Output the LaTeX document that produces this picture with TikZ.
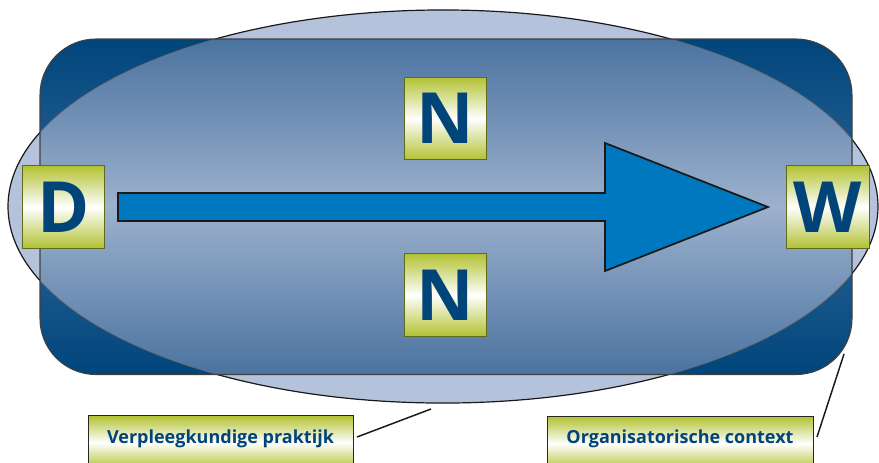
\documentclass[tikz,border=0pt]{standalone}
\usepackage{fontspec}
\setmainfont{Open Sans}
\usetikzlibrary{calc}
\definecolor{ellfill}{HTML}{B4C3DB}
\definecolor{rectdark}{HTML}{00457A}
\definecolor{rectmid}{HTML}{2F6699}
\definecolor{inntop}{HTML}{4B73A0}
\definecolor{innmid}{HTML}{9CB1CD}
\definecolor{arrowblue}{HTML}{0078C0}
\definecolor{olive}{HTML}{B2C232}
\definecolor{olivedark}{HTML}{5E6B1E}
\definecolor{letterblue}{HTML}{00447A}
\tikzset{
  x=0.75pt, y=-0.75pt,
  letterbox/.style={draw=olivedark, line width=0.8pt, minimum width=62pt, minimum height=62pt,
    inner sep=0pt, top color=olive, bottom color=olive, middle color=white,
    text=letterblue, font=\fontsize{53}{53}\selectfont\bfseries},
  labelbox/.style={draw=black!85, line width=1.1pt, anchor=north west, inner sep=0pt,
    top color=olive, bottom color=olive, middle color=white},
  labeltext/.style={text=letterblue, font=\fontsize{13.5}{15}\selectfont\bfseries},
  leader/.style={draw=black!90, line width=1.1pt},
}
\begin{document}
\begin{tikzpicture}
\useasboundingbox (0,0) rectangle (879,462);
\clip (0,0) rectangle (879,462);
% ellipse background
\path[fill=ellfill, draw=black!90, line width=0.9pt] (443,206.5) ellipse [x radius=326.25pt, y radius=147.4pt];
% rounded rectangle
\path[top color=rectdark, bottom color=rectdark, middle color=rectmid, rounded corners=42pt]
  (40,39) rectangle (852,374.5);
% inner part (rect inside ellipse)
\begin{scope}
  \clip (443,206.5) ellipse [x radius=326.25pt, y radius=147.4pt];
  \path[top color=inntop, bottom color=inntop, middle color=innmid, rounded corners=42pt]
    (40,39) rectangle (852,374.5);
\end{scope}
\begin{scope}
  \clip[rounded corners=42pt] (40,39) rectangle (852,374.5);
  \draw[black!60, line width=0.5pt] (443,206.5) ellipse [x radius=326.25pt, y radius=147.4pt];
\end{scope}
\draw[black!75, line width=0.8pt, rounded corners=42pt] (40,39) rectangle (852,374.5);
% arrow
\draw[fill=arrowblue, draw=black!90, line width=1.3pt, line join=miter]
  (118,193) -- (605,193) -- (605,143) -- (768,207) -- (605,271) -- (605,221) -- (118,221) -- cycle;
% letter boxes
\node[letterbox] (d) at (63.5,207) {D};
\node[letterbox] (w) at (828,207) {W};
\node[letterbox] (n1) at (445.5,118.5) {N};
\node[letterbox] (n2) at (445.5,295) {N};
% label boxes
\node[labelbox, minimum width=198.75pt, minimum height=40pt] (vp) at (88,415) {};
\node[labeltext] (vpt) at (220.5,439) {Verpleegkundige praktijk};
\node[labelbox, minimum width=199.5pt, minimum height=40pt] (oc) at (547,416) {};
\node[labeltext] (oct) at (680,439) {Organisatorische context};
% leaders
\coordinate (e1) at (431,409);
\coordinate (e2) at (844,354);
\draw[leader] (357,437) -- (e1);
\draw[leader] (817,437) -- (e2);
\end{tikzpicture}
\end{document}
